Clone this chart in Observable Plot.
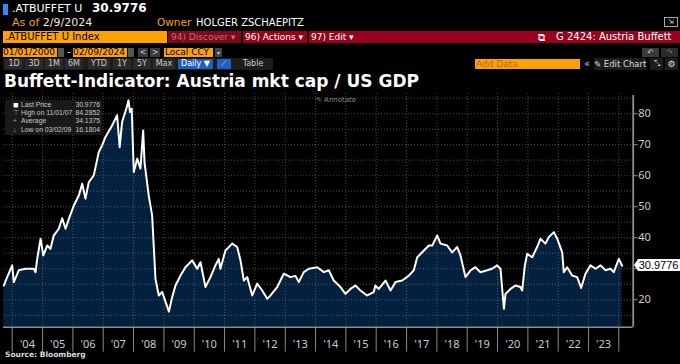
<!DOCTYPE html>
<html>
<head>
<meta charset="utf-8">
<script src="https://cdn.jsdelivr.net/npm/d3@7"></script>
<script src="https://cdn.jsdelivr.net/npm/@observablehq/plot@0.6"></script>
<style>
  html, body { margin: 0; padding: 0; background: #000; }
  body { width: 680px; height: 364px; position: relative; overflow: hidden; font-family: "DejaVu Sans", sans-serif; color: #fff; }
  .abs { position: absolute; white-space: nowrap; }
  .orange { background: #ffa200; color: #000; }
  .red { background: #98001c; color: #fff; }
  .btn { position: absolute; top: 59px; height: 10px; line-height: 10px; font-size: 8px; color: #ccc; text-align: center; background: #2a2a2a; }
</style>
</head>
<body>
<!-- header row 1 -->
<div class="abs" style="left:3px;top:4px;width:5px;height:11px;background:#2a8cff"></div>
<div class="abs" style="left:12px;top:2px;font-size:11px;line-height:14px;">.ATBUFFET U</div>
<div class="abs" style="left:92px;top:1px;font-size:12px;line-height:15px;font-weight:bold;">30.9776</div>
<!-- row 2 -->
<div class="abs" style="left:12px;top:16px;font-size:11px;line-height:13px;"><span style="color:#f0a020">As of</span> <span style="color:#f4ead0">2/9/2024</span></div>
<div class="abs" style="left:157px;top:16px;font-size:10.5px;line-height:13px;color:#f0a020">Owner</div>
<div class="abs" style="left:196px;top:16px;font-size:10px;line-height:13px;">HOLGER ZSCHAEPITZ</div>
<div class="abs" style="left:664px;top:17px;width:12px;height:8px;border:1px solid #aaa;font-size:7px;line-height:8px;color:#ddd;text-align:center;">⇲</div>
<!-- row 3 -->
<div class="abs orange" style="left:3px;top:31px;width:162px;height:12px;line-height:12px;font-size:10px;padding-left:2px;">.ATBUFFET U Index</div>
<div class="abs" style="left:168px;top:31px;width:73px;height:12px;line-height:12px;font-size:9px;background:#7a0a1c;color:#c86a78;padding-left:3px;box-sizing:border-box;">94) Discover ▾</div>
<div class="abs red" style="left:243px;top:31px;width:64px;height:12px;line-height:12px;font-size:9px;padding-left:2px;box-sizing:border-box;">96) Actions ▾</div>
<div class="abs red" style="left:309px;top:31px;width:371px;height:12px;line-height:12px;font-size:9px;padding-left:2px;box-sizing:border-box;">97) Edit ▾</div>
<div class="abs" style="left:538px;top:32px;font-size:10px;line-height:11px;color:#fff;">⧉</div>
<div class="abs" style="left:556px;top:31px;font-size:10px;line-height:12px;color:#fff;">G 2424: Austria Buffett</div>
<!-- row 4 -->
<div class="abs orange" style="left:3px;top:48px;width:54px;height:9px;line-height:9px;font-size:9px;">01/01/2000</div>
<div class="abs" style="left:58px;top:48px;width:6px;height:9px;background:#555;"></div>
<div class="abs" style="left:67px;top:46px;font-size:10px;color:#ddd;">-</div>
<div class="abs orange" style="left:73px;top:48px;width:54px;height:9px;line-height:9px;font-size:9px;">02/09/2024</div>
<div class="abs" style="left:128px;top:48px;width:6px;height:9px;background:#555;"></div>
<div class="abs" style="left:138px;top:48px;width:10px;height:9px;background:#3a3a3a;font-size:8px;line-height:9px;text-align:center;color:#ccc;">&lt;</div>
<div class="abs" style="left:150px;top:48px;width:10px;height:9px;background:#3a3a3a;font-size:8px;line-height:9px;text-align:center;color:#ccc;">&gt;</div>
<div class="abs orange" style="left:164px;top:48px;width:49px;height:9px;line-height:9px;font-size:9px;padding-left:1px;box-sizing:border-box;">Local CCY</div>
<div class="abs" style="left:215px;top:48px;width:7px;height:9px;background:#444;font-size:6px;line-height:9px;text-align:center;color:#ccc;">▾</div>
<div class="abs" style="left:642px;top:48px;width:17px;height:9px;background:#3a3a3a;font-size:8px;line-height:9px;text-align:center;color:#ccc;">↶</div>
<div class="abs" style="left:661px;top:48px;width:17px;height:9px;background:#2a2a2a;font-size:8px;line-height:9px;text-align:center;color:#777;">↷</div>
<!-- row 5 -->
<div class="abs" style="left:3px;top:58px;width:270px;height:12px;background:#1c1c1c;"></div>
<div class="btn" style="left:5px;width:18px;">1D</div>
<div class="btn" style="left:25px;width:18px;">3D</div>
<div class="btn" style="left:45px;width:18px;">1M</div>
<div class="btn" style="left:65px;width:18px;">6M</div>
<div class="btn" style="left:88px;width:22px;">YTD</div>
<div class="btn" style="left:113px;width:18px;">1Y</div>
<div class="btn" style="left:133px;width:18px;">5Y</div>
<div class="btn" style="left:153px;width:22px;">Max</div>
<div class="btn" style="left:178px;width:35px;background:#1f5fc4;color:#fff;">Daily ▼</div>
<div class="btn" style="left:217px;width:14px;background:#1f5fc4;color:#cde;">⟋</div>
<div class="btn" style="left:235px;width:36px;background:#1c1c1c;">Table</div>
<div class="abs orange" style="left:475px;top:59px;width:104px;height:10px;line-height:10px;font-size:9px;color:#b86a00;padding-left:1px;">Add Data</div>
<div class="abs" style="left:584px;top:58px;font-size:10px;line-height:12px;color:#ccc;">«</div>
<div class="abs" style="left:594px;top:58px;width:52px;height:12px;background:#1c1c1c;font-size:8.5px;line-height:12px;color:#ddd;">✎ Edit Chart</div>
<div class="abs" style="left:650px;top:58px;width:13px;height:12px;background:#1c1c1c;font-size:8px;line-height:12px;color:#ccc;text-align:center;">⤡</div>
<div class="abs" style="left:665px;top:58px;width:13px;height:12px;background:#1c1c1c;font-size:9px;line-height:12px;color:#ddd;text-align:center;">⚙</div>
<!-- title -->
<div class="abs" style="left:4px;top:71px;font-family:'DejaVu Sans';font-weight:bold;font-size:17px;line-height:20px;">Buffett-Indicator: Austria mkt cap / US GDP</div>

<div id="chart" class="abs" style="left:0;top:93px;"></div>

<!-- legend box -->
<div class="abs" style="left:5px;top:100px;width:97px;height:35px;background:rgba(28,28,28,0.88);"></div>
<div id="legend" class="abs" style="left:5px;top:100px;width:97px;font-family:'Liberation Sans',Arial,sans-serif;font-size:6.8px;line-height:8.2px;color:#c8c8c8;padding-top:1px;"></div>
<div class="abs" style="left:316px;top:96px;font-size:7px;line-height:9px;color:#888;">✎ Annotate</div>
<div id="lastlabel" class="abs"></div>

<div class="abs" style="left:5px;top:350px;font-size:7.5px;line-height:10px;font-weight:bold;color:#ddd;">Source: Bloomberg</div>

<script>
// ---- data ----
const dates = [
  "2003-09-21","2003-11-01","2004-01-01","2004-01-20","2004-03-20","2004-06-10","2004-09-17","2004-10-08","2004-10-28","2004-12-08",
  "2005-01-09","2005-02-26","2005-04-05","2005-05-15","2005-07-15","2005-08-25","2005-10-04","2005-11-13",
  "2006-01-12","2006-03-13","2006-04-23","2006-06-01","2006-07-11","2006-09-09","2006-11-08","2006-12-19",
  "2007-01-28","2007-04-18","2007-06-17","2007-07-18","2007-08-16","2007-10-10","2007-11-01","2007-11-20","2007-12-10",
  "2008-01-04","2008-02-14","2008-03-24","2008-04-26","2008-05-12","2008-07-02","2008-08-12","2008-09-21","2008-10-31","2008-12-11",
  "2009-03-02","2009-04-05","2009-05-20","2009-07-19","2009-09-17","2009-12-07",
  "2010-02-06","2010-03-17","2010-05-16","2010-07-15","2010-09-13","2010-10-23","2010-11-12",
  "2011-01-12","2011-04-03","2011-06-02","2011-07-12","2011-08-21","2011-10-01","2011-11-30",
  "2012-01-29","2012-03-30","2012-05-28","2012-07-07","2012-09-26","2012-12-14",
  "2013-03-05","2013-05-04","2013-06-13","2013-08-12","2013-10-12",
  "2014-01-21","2014-04-11","2014-06-10","2014-08-08","2014-10-28","2014-12-27",
  "2015-02-25","2015-04-26","2015-06-25","2015-09-14","2015-12-02","2015-12-22",
  "2016-02-01","2016-04-22","2016-06-22","2016-08-21","2016-11-09",
  "2017-01-28","2017-03-29","2017-05-09","2017-07-08","2017-09-26","2017-11-06",
  "2018-01-05","2018-02-14","2018-05-05","2018-07-04","2018-09-02","2018-10-12","2018-12-11",
  "2019-02-10","2019-04-10","2019-06-09","2019-08-29","2019-10-28","2019-12-27",
  "2020-02-06","2020-03-18","2020-04-06","2020-06-05","2020-08-04","2020-10-03","2020-10-24","2020-11-25","2020-12-23",
  "2021-02-22","2021-04-22","2021-06-01","2021-07-31","2021-09-10","2021-11-09","2021-12-20",
  "2022-02-18","2022-03-09","2022-04-19","2022-06-18","2022-08-17","2022-10-04","2022-11-25",
  "2023-01-25","2023-03-26","2023-05-26","2023-07-25","2023-09-23","2023-11-01",
  "2024-01-01","2024-02-09"
];
const values = [
  24.6,27.3,31.1,25.7,29.5,30.0,30.0,28.9,33.2,39.7,
  34.3,37.5,36.4,40.7,42.9,46.3,42.9,46.1,
  50.4,53.6,57.4,52.6,57.9,60.1,67.6,69.8,
  72.5,76.2,79.5,69.2,77.3,82.0,84.29,80.5,81.6,
  61.2,65.5,62.3,74.6,64.4,53.6,47.2,26.8,21.4,22.5,
  16.18,20.3,24.6,27.8,30.5,32.7,
  30.0,32.1,24.1,27.3,31.1,33.2,30.0,
  35.9,38.1,37.0,32.7,26.2,27.3,21.4,
  25.2,23.0,20.3,21.4,24.1,28.4,
  27.3,27.7,25.7,28.9,30.0,
  30.5,28.9,29.5,26.2,24.1,21.9,
  23.5,24.6,23.0,21.4,22.5,24.6,
  23.5,26.2,23.0,25.7,26.2,
  27.8,29.5,33.7,35.3,37.5,37.5,
  40.7,38.1,37.5,35.3,37.0,34.3,27.3,
  29.5,30.5,28.9,29.5,30.0,31.1,
  30.0,17.1,21.9,23.5,24.6,24.1,23.0,31.0,34.8,
  33.7,37.0,39.7,38.1,40.2,41.8,39.7,
  35.3,28.9,30.5,27.8,27.3,23.8,28.4,
  31.1,30.0,31.1,29.5,30.0,28.9,
  33.2,30.9776
];
const yearTickYears = d3.range(2004, 2025);           // year boundaries
const yearLabelYears = d3.range(2004, 2024);          // '04 … '23
const yTickValues = [20, 30, 40, 50, 60, 70, 80];
const yHiddenLabel = 30;                              // covered by the last-price tag
const yGridValues = [15, 20, 25, 30, 35, 40, 45, 50, 55, 60, 65, 70, 75, 80, 85];
const legendLabels = ["Last Price", "High on 11/01/07", "Average", "Low on 03/02/09"];
const legendValues = ["30.9776", "84.2852", "34.1375", "16.1804"];
const legendIcons = ["■", "⊤", "+", "↓"];

// ---- build ----
const data = dates.map((d, i) => ({date: new Date(d), value: values[i]}));
const yMin = 11.16, yMax = 86.5;
const xDomain = [new Date("2003-09-18"), new Date("2024-06-22")];
const yearStarts = yearTickYears.map(y => new Date(Date.UTC(y, 0, 1)));
const yearMids = yearLabelYears.map(y => new Date(Date.UTC(y, 6, 2)));

const chart = Plot.plot({
  width: 680,
  height: 260,
  marginTop: 0,
  marginLeft: 3,
  marginRight: 47.3,
  marginBottom: 26.3,
  style: {background: "transparent", color: "#ccc", overflow: "visible"},
  x: {type: "utc", domain: xDomain, label: null},
  y: {domain: [yMin, yMax], label: null},
  marks: [
    Plot.areaY(data, {x: "date", y1: yMin, y2: "value", fill: "#03203e", curve: "linear"}),
    Plot.gridY(yGridValues, {stroke: "#8a8a8a", strokeOpacity: 0.55, strokeDasharray: "1,2"}),
    Plot.gridX(yearStarts, {stroke: "#8a8a8a", strokeOpacity: 0.55, strokeDasharray: "1,2"}),
    Plot.lineY(data, {x: "date", y: "value", stroke: "#fff", strokeWidth: 2}),
    Plot.axisX(yearStarts, {tickSize: 25, tickFormat: () => "", stroke: "#8a8a8a", strokeOpacity: 1, label: null}),
    Plot.axisX(yearMids, {tickSize: 0, tickPadding: 13, fontSize: 11, tickFormat: d => "'" + String(d.getUTCFullYear()).slice(2), color: "#ccc", label: null}),
    Plot.ruleY([yMin], {stroke: "#8f8f8f", strokeWidth: 1.5}),
    Plot.ruleX([xDomain[1]], {y1: yMin, y2: 85.9, stroke: "#8f8f8f", strokeWidth: 1.8}),
    Plot.axisY(yTickValues, {anchor: "right", tickSize: 4, tickPadding: 1, fontSize: 11, color: "#ccc", stroke: "#8f8f8f", label: null,
      tickFormat: d => d === yHiddenLabel ? "" : String(d)})
  ]
});
document.getElementById("chart").appendChild(chart);

// legend
const leg = document.getElementById("legend");
legendLabels.forEach((lab, i) => {
  const row = document.createElement("div");
  row.style.cssText = "position:relative;height:8.2px;";
  row.innerHTML = `<span style="position:absolute;left:8px;color:${i===0?'#fff':'#999'};font-size:${i===0?9:7}px;">${legendIcons[i]}</span>` +
    `<span style="position:absolute;left:16px;">${lab}</span>` +
    `<span style="position:absolute;right:2px;">${legendValues[i]}</span>`;
  leg.appendChild(row);
});

// last price label, placed with the chart's own scales
const ys = chart.scale("y"), xs = chart.scale("x");
const last = data[data.length - 1];
const ly = 93 + ys.apply(last.value);
const lx = xs.apply(xDomain[1]);
const lab = document.getElementById("lastlabel");
lab.style.cssText = `left:${lx + 5}px;top:${ly - 6}px;height:12px;line-height:12px;background:#fff;color:#000;font-family:'Liberation Sans',Arial,sans-serif;font-size:11px;padding:0 2px 0 1px;`;
lab.textContent = last.value.toFixed(4);
const ptr = document.createElement("div");
ptr.style.cssText = `position:absolute;left:${lx + 1}px;top:${ly - 6}px;width:0;height:0;border-top:6px solid transparent;border-bottom:6px solid transparent;border-right:4px solid #fff;`;
document.body.appendChild(ptr);
</script>
</body>
</html>
